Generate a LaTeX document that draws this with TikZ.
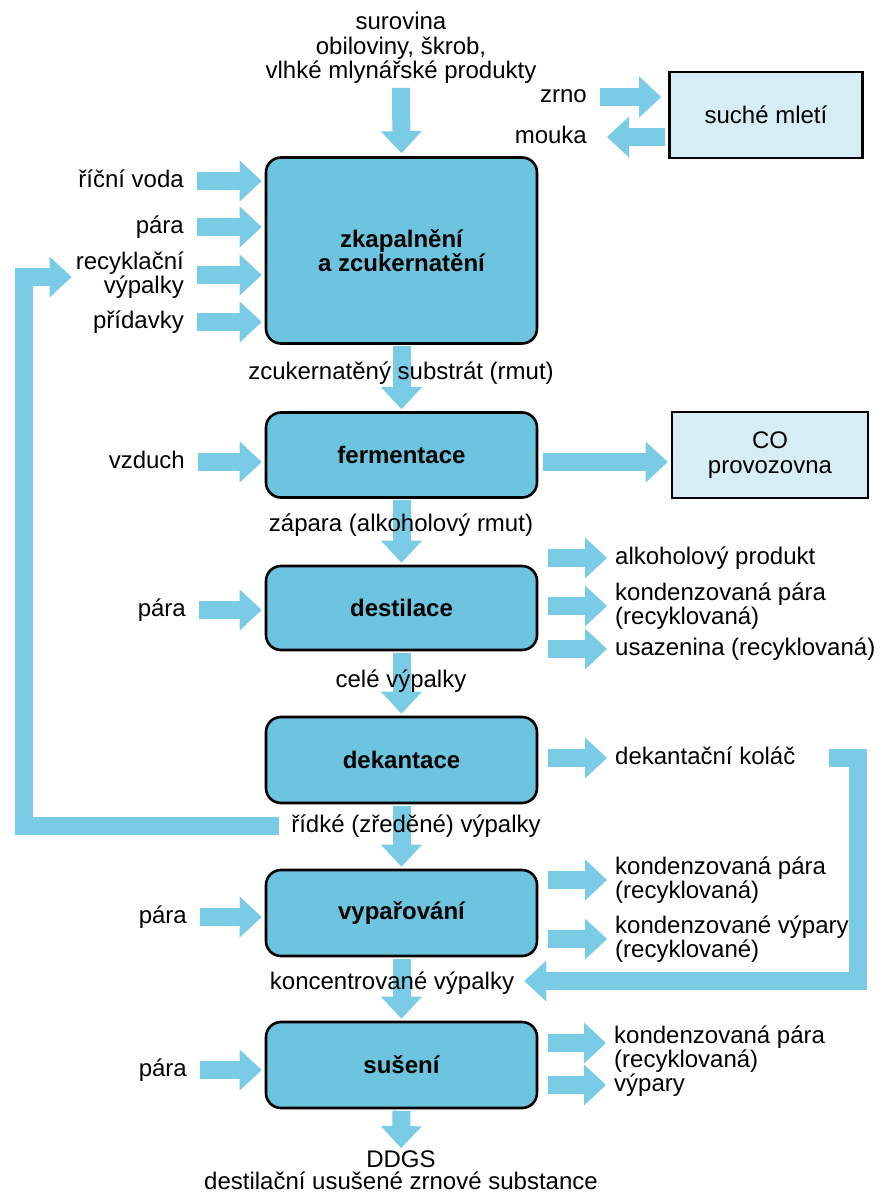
\documentclass[tikz,border=0pt]{standalone}
\usepackage{fontspec}
\setmainfont{Liberation Sans}
\usetikzlibrary{arrows.meta}
\definecolor{boxc}{RGB}{108,196,222}
\definecolor{arrc}{RGB}{122,204,230}
\definecolor{sidec}{RGB}{214,237,245}
\newcommand{\diagfont}{\fontsize{24}{24.5}\selectfont}
\pgfdeclarelayer{bg}
\pgfsetlayers{bg,main}
\begin{document}
\begin{tikzpicture}[x=1pt,y=-1pt,
  mainbox/.style={draw=black, line width=2.6pt, rounded corners=15pt, fill=boxc,
    minimum width=271pt, inner sep=0pt, align=center, font=\diagfont\bfseries},
  sidebox/.style={draw=black, line width=2.6pt, fill=sidec, inner sep=0pt,
    align=center, font=\diagfont},
  lbl/.style={inner sep=0pt, font=\diagfont, text height=17pt, text depth=5pt},
  mlbl/.style={inner sep=0pt, font=\diagfont},
  barrow/.style={draw=arrc, line width=18pt, line join=miter,
    -{Triangle[width=41pt,length=22pt,line width=0pt]}}]
\useasboundingbox (0,0) rectangle (882,1196);
\begin{pgfonlayer}{bg}
\fill[white] (0,0) rectangle (882,1196);
\end{pgfonlayer}

% main process boxes
\node[mainbox, minimum height=186pt] (b1) at (401.5,250.5) {zkapalnění\\a zcukernatění};
\node[mainbox, minimum height=85pt] (b2) at (401.5,455) {fermentace};
\node[mainbox, minimum height=84pt] (b3) at (401.5,608) {destilace};
\node[mainbox, minimum height=86pt] (b4) at (401.5,760) {dekantace};
\node[mainbox, minimum height=86pt] (b5) at (401.5,913) {vypařování};
\node[mainbox, minimum height=86pt] (b6) at (401.5,1065) {sušení};

% side boxes
\node[sidebox, minimum width=193pt, minimum height=86pt] (s1) at (766,115) {suché mletí};
\node[sidebox, minimum width=196pt, minimum height=86pt] (s2) at (770,455) {CO\\provozovna};

% labels
\node[mlbl, align=center] (src) at (401,48) {surovina\\obiloviny, škrob,\\vlhké mlynářské produkty};
\node[lbl, anchor=east] (zrno) at (587,97) {zrno};
\node[lbl, anchor=east] (mouka) at (587,137) {mouka};
\node[lbl, anchor=east] (rv) at (184,181) {říční voda};
\node[lbl, anchor=east] (pa1) at (184,227) {pára};
\node[mlbl, align=right, anchor=east] (recyk) at (184,275) {recyklační\\výpalky};
\node[lbl, anchor=east] (prid) at (184,322) {přídavky};
\node[lbl] (rmut) at (401,373) {zcukernatěný substrát (rmut)};
\node[lbl, anchor=east] (vzd) at (185,462) {vzduch};
\node[lbl] (zap) at (401,525) {zápara (alkoholový rmut)};
\node[lbl, anchor=east] (pa2) at (186,610) {pára};
\node[lbl, anchor=west] (alk) at (615,558) {alkoholový produkt};
\node[mlbl, align=left, anchor=west] (kp1) at (615,606) {kondenzovaná pára\\(recyklovaná)};
\node[lbl, anchor=west] (usaz) at (615,649) {usazenina (recyklovaná)};
\node[lbl] (cele) at (401,681) {celé výpalky};
\node[lbl, anchor=west] (kolac) at (615,758) {dekantační koláč};
\node[lbl] (ridke) at (416,826) {řídké (zředěné) výpalky};
\node[lbl, anchor=east] (pa3) at (187,917) {pára};
\node[mlbl, align=left, anchor=west] (kp2) at (615,880) {kondenzovaná pára\\(recyklovaná)};
\node[mlbl, align=left, anchor=west] (kv2) at (615,939) {kondenzované výpary\\(recyklované)};
\node[lbl] (konc) at (392,983) {koncentrované výpalky};
\node[lbl, anchor=east] (pa4) at (187,1070) {pára};
\node[mlbl, align=left, anchor=west] (kp3) at (614,1049) {kondenzovaná pára\\(recyklovaná)};
\node[lbl, anchor=west] (vyp3) at (614,1085) {výpary};
\node[mlbl, align=center] (ddgs) at (401,1170) {DDGS\\[-2pt]destilační usušené zrnové substance};

\coordinate (loopL) at (23.5,277);
\coordinate (loopR) at (857.5,758);
\coordinate (loopR2) at (857.5,981);

\begin{pgfonlayer}{bg}
% raw material
\draw[barrow] ([yshift=-4pt]src.south) -- ([yshift=3pt]b1.north);
\draw[barrow] ([xshift=13pt]zrno.east) -- ([xshift=-7pt]zrno.east -| s1.west);
\draw[barrow] ([xshift=-3pt]mouka.east -| s1.west) -- ([xshift=20pt]mouka.east);
% inputs to liquefaction
\foreach \n in {rv,pa1,recyk,prid}
  \draw[barrow] ([xshift=13pt]\n.east) -- ([xshift=-3pt]\n.east -| b1.west);
% main chain
\draw[barrow] ([yshift=-1.5pt]b1.south) -- ([yshift=2pt]b2.north);
\draw[barrow] ([yshift=-1.5pt]b2.south) -- ([yshift=2pt]b3.north);
\draw[barrow] ([yshift=-1.5pt]b3.south) -- ([yshift=2pt]b4.north);
\draw[barrow] ([yshift=-1.5pt]b4.south) -- ([yshift=2pt]b5.north);
\draw[barrow] ([yshift=-1.5pt]b5.south) -- ([yshift=2pt]b6.north);
\draw[barrow] ([yshift=-1.5pt]b6.south) -- ([yshift=2pt]ddgs.north);
% fermentation
\draw[barrow] ([xshift=13pt]vzd.east) -- ([xshift=-3pt]vzd.east -| b2.west);
\draw[barrow] ([xshift=5pt]vzd.east -| b2.east) -- ([xshift=-3pt]vzd.east -| s2.west);
% distillation
\draw[barrow] ([xshift=13pt]pa2.east) -- ([xshift=-3pt]pa2.east -| b3.west);
\foreach \n in {alk,kp1,usaz}
  \draw[barrow] ([xshift=10pt]\n.west -| b3.east) -- ([xshift=-8pt]\n.west);
% decanting
\draw[barrow] ([xshift=10pt]kolac.west -| b4.east) -- ([xshift=-8pt]kolac.west);
% evaporation
\draw[barrow] ([xshift=13pt]pa3.east) -- ([xshift=-3pt]pa3.east -| b5.west);
\foreach \n in {kp2,kv2}
  \draw[barrow] ([xshift=10pt]\n.west -| b5.east) -- ([xshift=-8pt]\n.west);
% drying
\draw[barrow] ([xshift=13pt]pa4.east) -- ([xshift=-3pt]pa4.east -| b6.west);
\draw[barrow] ([xshift=10pt,yshift=6pt]kp3.west -| b6.east) -- ([xshift=-8pt,yshift=6pt]kp3.west);
\draw[barrow] ([xshift=10pt]vyp3.west -| b6.east) -- ([xshift=-8pt]vyp3.west);
% recycle loops
\draw[barrow] ([xshift=-12pt]ridke.west) -| (loopL) -- ([xshift=-4pt]recyk.west |- loopL);
\draw[barrow] ([xshift=33pt]kolac.east) -- (loopR) -- (loopR2) -- ([xshift=10pt]konc.east |- loopR2);
\end{pgfonlayer}
\end{tikzpicture}
\end{document}
